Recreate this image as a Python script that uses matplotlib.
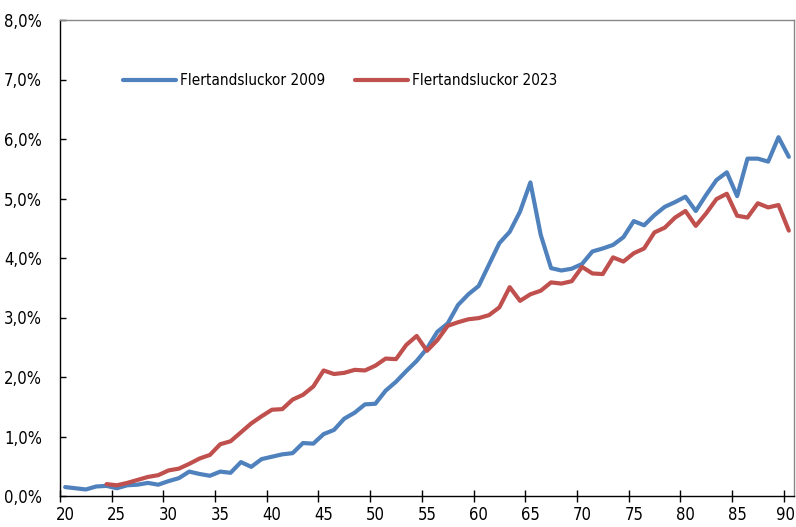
import matplotlib
matplotlib.use('Agg')
import matplotlib.pyplot as plt
import matplotlib.transforms as mtransforms
from matplotlib import font_manager
from matplotlib.ticker import FuncFormatter

# Andel flertandsluckor per ålder
ages = list(range(20, 91))
ages_2023 = list(range(24, 91))

luckor_2009 = [0.15, 0.13, 0.11, 0.16, 0.17, 0.13, 0.18, 0.19, 0.22, 0.19,
               0.25, 0.30, 0.41, 0.37, 0.34, 0.41, 0.39, 0.57, 0.49, 0.62,
               0.66, 0.70, 0.72, 0.89, 0.88, 1.04, 1.11, 1.30, 1.40, 1.54,
               1.55, 1.77, 1.92, 2.10, 2.27, 2.48, 2.76, 2.90, 3.21, 3.39,
               3.53, 3.89, 4.25, 4.44, 4.78, 5.27, 4.39, 3.83, 3.79, 3.82,
               3.90, 4.11, 4.16, 4.22, 4.35, 4.62, 4.55, 4.72, 4.86, 4.94,
               5.03, 4.79, 5.06, 5.31, 5.44, 5.04, 5.67, 5.67, 5.62, 6.03,
               5.70]

luckor_2023 = [0.20, 0.18, 0.22, 0.27, 0.32, 0.35, 0.43, 0.46, 0.54, 0.63,
               0.69, 0.87, 0.92, 1.07, 1.22, 1.34, 1.45, 1.46, 1.62, 1.70,
               1.84, 2.11, 2.05, 2.07, 2.12, 2.11, 2.19, 2.31, 2.30, 2.54,
               2.69, 2.44, 2.62, 2.86, 2.92, 2.97, 2.99, 3.04, 3.17, 3.51,
               3.28, 3.39, 3.45, 3.59, 3.57, 3.61, 3.85, 3.74, 3.73, 4.01,
               3.94, 4.08, 4.16, 4.43, 4.51, 4.68, 4.79, 4.54, 4.75, 4.99,
               5.08, 4.71, 4.68, 4.92, 4.85, 4.89, 4.46]

x_labels = list(range(20, 91, 5))
y_ticks = [0, 1, 2, 3, 4, 5, 6, 7, 8]

names = {f.name for f in font_manager.fontManager.ttflist}
if 'Liberation Sans Narrow' in names:
    plt.rcParams['font.family'] = ['Liberation Sans Narrow', 'DejaVu Sans']
else:
    plt.rcParams['font.family'] = ['DejaVu Sans']
    plt.rcParams['font.stretch'] = 'condensed'
plt.rcParams['font.size'] = 12

fig = plt.figure(figsize=(7.96, 5.27), dpi=100)
ax = fig.add_axes([60 / 796, 31 / 527, 734 / 796, 476 / 527])

ax.plot(ages, luckor_2009, color='#4F81BD', lw=3, label='Flertandsluckor 2009',
        solid_capstyle='round')
ax.plot(ages_2023, luckor_2023, color='#C0504D', lw=3, label='Flertandsluckor 2023',
        solid_capstyle='round')

ax.set_xlim(19.5, 90.5)
ax.set_ylim(0, 8)

ax.set_xticks(x_labels)
ax.set_xticks([a - 0.5 for a in x_labels], minor=True)
ax.tick_params(axis='x', which='major', length=0, pad=7, labelsize=12)
ax.tick_params(axis='x', which='minor', direction='inout', length=8.5, width=1)

# sista etiketten ("90") ligger mot kanten, flytta den ett par pixlar in
last = ax.get_xticklabels()[-1]
last.set_transform(last.get_transform() +
                   mtransforms.ScaledTranslation(-3 / 100, 0, fig.dpi_scale_trans))

ax.set_yticks(y_ticks)
ax.yaxis.set_major_formatter(FuncFormatter(lambda v, p: f'{v:.1f}%'.replace('.', ',')))
ax.tick_params(axis='y', direction='in', length=4, width=1, pad=13, labelsize=12)

for side in ['left', 'bottom']:
    ax.spines[side].set_color('black')
    ax.spines[side].set_linewidth(1)
for side in ['top', 'right']:
    ax.spines[side].set_color('#888888')
    ax.spines[side].set_linewidth(1)

ax.legend(loc='center left', bbox_to_anchor=(0.0858, 0.872), ncol=2, frameon=False,
          borderpad=0, borderaxespad=0, handlelength=3.5, handletextpad=0.25,
          columnspacing=1.9, fontsize=11)

fig.savefig('out.png', dpi=100)
